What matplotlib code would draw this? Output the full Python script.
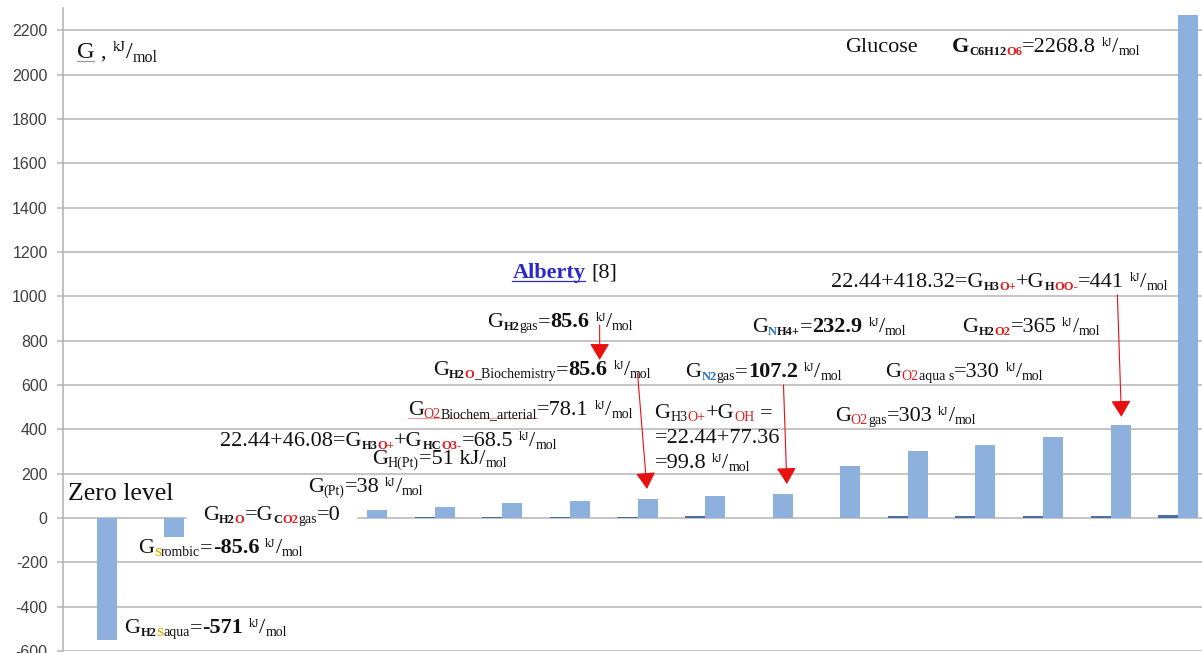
import matplotlib
matplotlib.use('Agg')
import matplotlib.pyplot as plt
import numpy as np
from matplotlib.transforms import IdentityTransform
from matplotlib.patches import Rectangle
from matplotlib.lines import Line2D

plt.rcParams['axes.unicode_minus'] = False

# значения G, кДж/моль (светлая и тёмная серии)
g_main = [-550, -85.6, 0, 0, 38, 51, 68.5, 78.1, 85.6, 99.8, 107.2,
          232.9, 303, 330, 365, 418.32, 2268.8]
g_small = [0, 0, 0, 0, 0, 3, 4, 5, 6, 7, 0, 0, 8, 9, 10, 11, 12]
y_ticks = list(range(-600, 2201, 200))

RED = '#e01b1b'
BLUE = '#1f6fbf'
YEL = '#d9b300'
ABL = '#2a2acb'
INK = '#111111'

fig = plt.figure(figsize=(12.02, 6.53), dpi=100)
ax = fig.add_axes([63 / 1202, 2 / 653, 1149 / 1202, 643 / 653])

x = np.arange(len(g_main))
w = 0.296
ax.bar(x - w / 2, g_small, w, color='#4a6fa5', lw=0, zorder=2)
ax.bar(x + w / 2, g_main, w, color='#8db1dc', lw=0, zorder=2)

ax.set_xlim(-0.5, len(g_main) - 0.5)
ax.set_ylim(-600, 2300)
ax.set_yticks(y_ticks)
ax.set_xticks([])
ax.grid(axis='y', color='#b5b5b5', lw=1.1)
ax.set_axisbelow(True)
for s in ['top', 'right', 'bottom']:
    ax.spines[s].set_visible(False)
ax.spines['left'].set_color('#b5b5b5')
ax.spines['left'].set_linewidth(1.2)
ax.tick_params(axis='y', length=4, width=1.1, color='#b5b5b5', pad=7,
               labelsize=11.5, labelcolor='#404040')
for lab in ax.get_yticklabels():
    lab.set_fontfamily('Liberation Sans')

# ---- текст с индексами разного цвета ----
SERIF = 'Liberation Serif'
SIZES = {'n': 16, 'b': 16, 'z': 18.5, 's': 10, 'S': 9, 'p': 8.5,
         'N': 17.5, 'P': 10.5, 'Q': 11.5}
SHIFT = {'n': 0, 'b': 0, 'z': 0, 's': -3, 'S': -3, 'p': 6,
         'N': 0, 'P': 7, 'Q': -4}
BOLD = {'b', 'S'}
GAP = 0.0
renderer = fig.canvas.get_renderer()


def rich(xd, yd, parts, box=False):
    x0, y0 = ax.transData.transform((xd, yd))
    xc = x0
    for p in parts:
        s, kind = p[0], p[1]
        col = p[2] if len(p) > 2 and p[2] else INK
        lead = len(s) - len(s.lstrip(' '))
        xc += lead * 0.25 * SIZES[kind] * 100 / 72
        t = fig.text(xc, y0 + SHIFT[kind], s.lstrip(' '),
                     transform=IdentityTransform(),
                     fontsize=SIZES[kind], family=SERIF, color=col,
                     weight='bold' if kind in BOLD else 'normal',
                     va='baseline', ha='left', zorder=4)
        bb = t.get_window_extent(renderer)
        if len(p) > 3 and p[3]:
            fig.add_artist(Line2D([xc, bb.x1], [y0 - 3, y0 - 3],
                                  transform=IdentityTransform(), color=p[3],
                                  lw=0.9, zorder=4))
        xc = bb.x1 + GAP
    if box:
        fig.add_artist(Rectangle((x0 - 16, y0 - 8), xc - x0 + 32, 24,
                                 transform=IdentityTransform(),
                                 color='white', zorder=3))


KJ = [('  kJ', 'p'), ('/', 'n'), ('mol', 's')]

labels = [
    ((-0.296, 2075), [('G', 'N', None, '#9a9a9a'), (' ,', 'n'),
                      ('  kJ', 'P'), ('/', 'N'), ('mol', 'Q')]),
    ((11.07, 2102), [('Glucose', 'n')]),
    ((12.65, 2102), [('G', 'b'), ('C6H12', 'S'), ('O6', 'S', RED),
                     ('=2268.8', 'n')] + KJ),
    ((6.15, 1083), [('Alberty', 'b', ABL, ABL), (' [8]', 'n')]),
    ((10.86, 1042), [('22.44+418.32=G', 'n'), ('H3', 'S'), ('O+', 'S', RED),
                     ('+G', 'n'), ('H', 'S'), ('OO-', 'S', RED),
                     ('=441', 'n')] + KJ),
    ((5.78, 862), [('G', 'n'), ('H2', 'S'), ('gas', 's'), ('=', 'n'),
                   ('85.6', 'b')] + KJ),
    ((9.69, 839), [('G', 'n'), ('N', 'S', BLUE), ('H4+', 'S'), ('=', 'n'),
                   ('232.9', 'b')] + KJ),
    ((12.81, 839), [('G', 'n'), ('H2', 'S'), ('O2', 'S', RED),
                    ('=365', 'n')] + KJ),
    ((4.97, 645), [('G', 'n'), ('H2', 'S'), ('O', 'S', RED),
                   ('_Biochemistry', 's'), ('=', 'n'), ('85.6', 'b')] + KJ),
    ((8.71, 636), [('G', 'n'), ('N2', 'S', BLUE), ('gas', 's'), ('=', 'n'),
                   ('107.2', 'b')] + KJ),
    ((11.67, 636), [('G', 'n'), ('O2', 's', RED), ('aqua s', 's'),
                    ('=330', 'n')] + KJ),
    ((4.60, 465), [('G', 'n', None, '#e8a0a0'),
                   ('O2', 's', RED, '#e8a0a0'),
                   ('Biochem_arterial', 's', None, '#e8a0a0'),
                   ('=78.1', 'n')] + KJ),
    ((8.25, 451), [('G', 'n'), ('H3', 's'), ('O+', 's', RED), ('+G', 'n'),
                   ('OH', 's', RED), (' =', 'n')]),
    ((8.25, 338), [('=22.44+77.36', 'n')]),
    ((8.25, 226), [('=99.8', 'n')] + KJ),
    ((10.92, 438), [('G', 'n'), ('O2', 's', RED), ('gas', 's'),
                    ('=303', 'n')] + KJ),
    ((1.82, 325), [('22.44+46.08=G', 'n'), ('H3', 'S'), ('O+', 'S', RED),
                   ('+G', 'n'), ('HC', 'S'), ('O3-', 'S', RED),
                   ('=68.5', 'n')] + KJ),
    ((4.07, 244), [('G', 'n'), ('H(Pt)', 's'), ('=51 kJ/', 'n'),
                   ('mol', 's')]),
    ((3.12, 117), [('G', 'n'), ('(Pt)', 's'), ('=38', 'n')] + KJ),
    ((-0.43, 81), [('Zero level', 'z')]),
    ((0.61, -158), [('G', 'n'), ('S', 'S', YEL), ('rombic', 's'), ('=', 'n'),
                    ('-85.6', 'b')] + KJ),
    ((0.41, -519), [('G', 'n'), ('H2', 'S'), ('S', 'S', YEL), ('aqua', 's'),
                    ('=', 'n'), ('-571', 'b')] + KJ),
]

for pos, parts in labels:
    rich(pos[0], pos[1], parts)

rich(1.57, -9, [('G', 'n'), ('H2', 'S'), ('O', 'S', RED), ('=G', 'n'),
                ('C', 'S'), ('O2', 'S', RED), ('gas', 's'), ('=0', 'n')],
     box=True)

# красные стрелки
arrows = [((7.44, 870), (7.44, 713)),
          ((8.00, 654), (8.14, 131)),
          ((10.16, 600), (10.21, 153)),
          ((15.10, 1006), (15.16, 456))]
for start, tip in arrows:
    ax.annotate('', xy=tip, xytext=start, annotation_clip=False,
                arrowprops=dict(arrowstyle='-|>,head_length=0.6,head_width=0.36',
                                color='#e81010', lw=0.8, shrinkA=0, shrinkB=0,
                                mutation_scale=17))

fig.savefig('out.png', dpi=100)
